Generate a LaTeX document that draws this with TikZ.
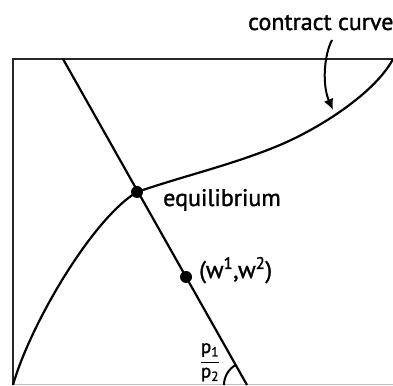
\documentclass[tikz,border=0pt]{standalone}
\usepackage{fontspec}
\setmainfont{PT Sans}[RawFeature={embolden=1.3}]
\usetikzlibrary{arrows.meta}
\begin{document}
\begin{tikzpicture}[x=1pt,y=1pt,
  lbl/.style={font=\fontsize{24}{26}\selectfont, inner sep=0pt},
  frac/.style={font=\fontsize{19}{20}\selectfont, inner sep=0pt},
  curveline/.style={line width=2.2pt, black},
  boxline/.style={line width=2.6pt, black!85},
  dotpt/.style={circle, fill=black, inner sep=0pt, minimum size=12pt}]
\useasboundingbox (0,0) rectangle (393,385);
% box
\coordinate (bl) at (13,0);
\coordinate (tl) at (13,326);
\coordinate (tr) at (393,326);
\coordinate (bl2) at (13,0.5);
\coordinate (br) at (393,0.5);
\draw[boxline] (bl) -- (tl) -- (tr);
\draw[line width=1pt, black!25] (bl2) -- (br);
% budget line
\coordinate (btop) at (63,326);
\coordinate (bbot) at (247,0);
\draw[curveline] (btop) -- (bbot);
% points
\node[dotpt] (eq) at (137,193) {};
\node[dotpt] (w) at (186,108) {};
% contract curve
\coordinate (cmid) at (280,240);
\draw[curveline] (bl) .. controls (30,60) and (92,166) .. (eq.center)
   .. controls (185,209.5) and (232,220) .. (cmid)
   .. controls (320,257) and (375,292) .. (tr);
% labels
\node[lbl, anchor=base west] (eqlbl) at (163,179) {equilibrium};
\node[lbl, anchor=base west] (wlbl) at (199,107) {(w\textsuperscript{1},w\textsuperscript{2})};
\node[lbl, anchor=base west] (cc) at (248,355) {contract curve};
% arrow
\coordinate (astart) at (332,345);
\coordinate (atip) at (333,275);
\draw[line width=2pt, -{Latex[length=11pt,width=10pt]}] (astart) .. controls (324,330) and (322,300) .. (atip);
% price ratio
\node[frac] (p1) at (210,35) {p\textsubscript{1}};
\node[frac] (p2) at (210,10.5) {p\textsubscript{2}};
\draw[line width=1.8pt] (p2.north west |- 0,22.5) -- (p2.north east |- 0,22.5);
\draw[line width=2pt] (bbot) ++(180:23) arc[start angle=180, end angle=119.4, radius=23];
\end{tikzpicture}
\end{document}
